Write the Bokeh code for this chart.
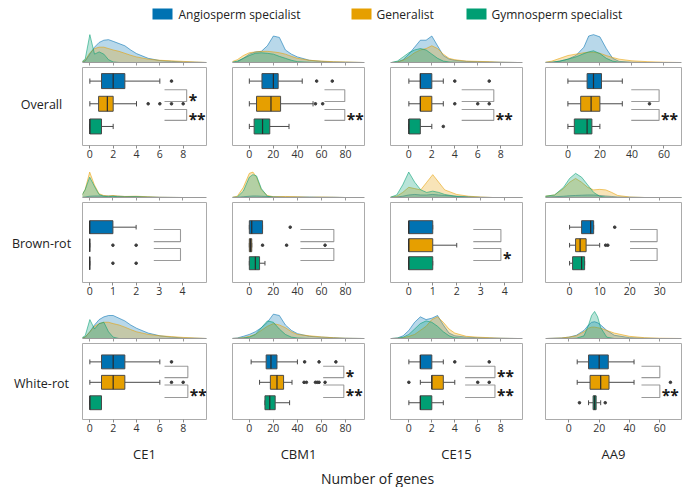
from bokeh.plotting import figure
from bokeh.layouts import column, row
from bokeh.models import ColumnDataSource, Range1d, FixedTicker, Label
from bokeh.embed import file_html
from bokeh.resources import INLINE
from bokeh.core.properties import value

FONT = "Open Sans"
GROUPS = ["Angiosperm specialist", "Generalist", "Gymnosperm specialist"]
COLORS = ["#0072B2", "#E69F00", "#009E73"]
ROW_NAMES = ["Overall", "Brown-rot", "White-rot"]
COL_NAMES = ["CE1", "CBM1", "CE15", "AA9"]

# ---- box statistics: [low whisker, Q1, median, Q3, high whisker] for Angio, Generalist, Gymno
BOX_OVERALL_CE1 = [[0, 1, 2, 3, 6], [0, 0.75, 1.5, 2, 4], [0, 0, 0, 1, 2]]
OUT_OVERALL_CE1 = [[7], [5, 6, 7, 8], []]
BOX_OVERALL_CBM1 = [[0, 10.5, 20, 24, 44], [0, 6, 18, 26, 53], [0, 4, 11, 17, 33]]
OUT_OVERALL_CBM1 = [[56, 69], [55, 61], []]
BOX_OVERALL_CE15 = [[0, 1, 1, 2, 3], [0, 1, 1, 2, 3], [0, 0, 0, 1, 2]]
OUT_OVERALL_CE15 = [[4, 7], [4, 6, 7], [3]]
BOX_OVERALL_AA9 = [[0, 12, 16, 21, 34], [0, 8, 14.5, 20, 34], [0, 4, 12, 15, 20]]
OUT_OVERALL_AA9 = [[], [51], []]

BOX_BROWN_CE1 = [[0, 0, 0, 1, 2], [0, 0, 0, 0, 0], [0, 0, 0, 0, 0]]
OUT_BROWN_CE1 = [[], [1, 2], [1, 2]]
BOX_BROWN_CBM1 = [[0, 0, 2, 11, 11], [0, 0, 1, 2, 2], [0, 0, 5, 8.5, 13]]
OUT_BROWN_CBM1 = [[34], [11, 31, 63], []]
BOX_BROWN_CE15 = [[0, 0, 0, 1, 1], [0, 0, 0, 1, 2], [0, 0, 0, 1, 1]]
OUT_BROWN_CE15 = [[], [], []]
BOX_BROWN_AA9 = [[0, 4, 7, 8, 8], [0, 2, 3.5, 5.5, 10], [0, 1, 4, 5, 5]]
OUT_BROWN_AA9 = [[15], [12, 12.7], []]

BOX_WHITE_CE1 = [[0, 1, 2, 3, 6], [0, 1, 2, 3, 6], [0, 0, 0, 1, 1]]
OUT_WHITE_CE1 = [[7], [7, 8], []]
BOX_WHITE_CBM1 = [[1.5, 14, 18, 23, 40], [8.5, 17.5, 23, 28.5, 35.5], [13, 13, 17, 21.5, 33.5]]
OUT_WHITE_CBM1 = [[46, 58, 72], [45.5, 47.5, 55, 56.5, 58, 63], []]
BOX_WHITE_CE15 = [[0, 1, 1, 2, 3], [1, 2, 2, 3, 4], [0, 1, 1, 2, 3]]
OUT_WHITE_CE15 = [[4, 7], [0, 6, 7], []]
BOX_WHITE_AA9 = [[5.5, 13, 20, 26, 43], [5.5, 14, 21, 26.5, 43], [13, 16, 17, 18, 21]]
OUT_WHITE_AA9 = [[], [67], [7, 24]]

# ---- significance labels (upper bracket: Angio vs Generalist, lower: Generalist vs Gymno)
SIG_OVERALL = [["*", "**"], ["", "**"], ["", "**"], ["", "**"]]
SIG_BROWN = [["", ""], ["", ""], ["", "*"], ["", ""]]
SIG_WHITE = [["", "**"], ["*", "**"], ["**", "**"], ["", "**"]]

# ---- tick labels
TICKS_OVERALL = [[0, 2, 4, 6, 8], [0, 20, 40, 60, 80], [0, 2, 4, 6, 8], [0, 20, 40, 60]]
TICKS_BROWN = [[0, 1, 2, 3, 4], [0, 20, 40, 60, 80], [0, 1, 2, 3, 4], [0, 10, 20, 30]]
TICKS_WHITE = [[0, 2, 4, 6, 8], [0, 20, 40, 60, 80], [0, 2, 4, 6, 8], [0, 20, 40, 60]]

# ---- density curves: grid + heights for Angio, Generalist, Gymno
DX_OVERALL_CE1 = [-0.8, -0.4, 0, 0.4, 0.8, 1.2, 1.6, 2, 2.5, 3, 3.5, 4, 5, 6, 7, 8, 9, 10]
DY_OVERALL_CE1 = [
    [0, 0.05, 0.3, 0.55, 0.72, 0.8, 0.82, 0.76, 0.68, 0.6, 0.45, 0.32, 0.15, 0.07, 0.04, 0.02, 0.01, 0],
    [0, 0.08, 0.35, 0.5, 0.55, 0.55, 0.5, 0.45, 0.4, 0.33, 0.26, 0.2, 0.12, 0.08, 0.06, 0.04, 0.02, 0],
    [0, 0.12, 1.0, 0.3, 0.38, 0.3, 0.1, 0.02, 0, 0, 0, 0, 0, 0, 0, 0, 0, 0],
]
DX_OVERALL_CBM1 = [-15, -10, -5, 0, 5, 10, 15, 20, 25, 30, 35, 40, 50, 60, 70, 80, 95]
DY_OVERALL_CBM1 = [
    [0, 0.02, 0.15, 0.3, 0.38, 0.4, 0.6, 0.95, 0.9, 0.45, 0.3, 0.2, 0.08, 0.04, 0.02, 0.01, 0],
    [0.02, 0.1, 0.25, 0.35, 0.38, 0.4, 0.4, 0.38, 0.35, 0.3, 0.22, 0.15, 0.08, 0.05, 0.03, 0.02, 0],
    [0, 0.05, 0.15, 0.25, 0.33, 0.35, 0.33, 0.3, 0.22, 0.15, 0.08, 0.03, 0.01, 0, 0, 0, 0],
]
DX_OVERALL_CE15 = [-1.5, -1, -0.5, 0, 0.5, 1, 1.5, 2, 2.5, 3, 3.5, 4, 5, 6, 7, 8, 9.5]
DY_OVERALL_CE15 = [
    [0, 0.02, 0.1, 0.3, 0.55, 0.8, 0.8, 0.95, 0.6, 0.25, 0.12, 0.08, 0.04, 0.03, 0.02, 0.01, 0],
    [0, 0.02, 0.08, 0.2, 0.35, 0.45, 0.5, 0.6, 0.5, 0.3, 0.15, 0.1, 0.05, 0.04, 0.03, 0.01, 0],
    [0, 0.05, 0.2, 0.35, 0.45, 0.5, 0.45, 0.3, 0.15, 0.05, 0.02, 0.01, 0, 0, 0, 0, 0],
]
DX_OVERALL_AA9 = [-15, -10, -5, 0, 5, 10, 13, 16, 20, 24, 28, 32, 40, 50, 60, 70]
DY_OVERALL_AA9 = [
    [0, 0.01, 0.05, 0.12, 0.25, 0.55, 0.95, 1.0, 0.92, 0.5, 0.15, 0.04, 0.01, 0, 0, 0],
    [0, 0.05, 0.15, 0.25, 0.3, 0.35, 0.37, 0.37, 0.33, 0.25, 0.18, 0.12, 0.06, 0.03, 0.01, 0],
    [0, 0.01, 0.05, 0.12, 0.2, 0.32, 0.38, 0.42, 0.32, 0.15, 0.05, 0.01, 0, 0, 0, 0],
]
DX_BROWN_CE1 = [-0.4, -0.2, 0, 0.2, 0.4, 0.6, 0.8, 1, 1.2, 1.5, 2, 2.5, 3, 4, 5]
DY_BROWN_CE1 = [
    [0, 0.02, 0.05, 0.06, 0.06, 0.06, 0.06, 0.06, 0.05, 0.04, 0.03, 0.02, 0.01, 0, 0],
    [0, 0.3, 1.0, 0.5, 0.15, 0.08, 0.06, 0.08, 0.06, 0.04, 0.05, 0.03, 0.01, 0, 0],
    [0, 0.3, 0.8, 0.45, 0.12, 0.05, 0.03, 0.05, 0.03, 0.02, 0.03, 0.01, 0, 0, 0],
]
DX_BROWN_CBM1 = [-15, -10, -5, 0, 3, 6, 10, 15, 20, 30, 40, 50, 60, 70, 80, 95]
DY_BROWN_CBM1 = [
    [0, 0.01, 0.03, 0.05, 0.06, 0.06, 0.05, 0.04, 0.03, 0.02, 0.02, 0.02, 0.01, 0.01, 0, 0],
    [0, 0.05, 0.4, 0.95, 1.0, 0.8, 0.3, 0.08, 0.03, 0.04, 0.03, 0.01, 0.02, 0.01, 0, 0],
    [0, 0.02, 0.25, 0.8, 0.9, 0.85, 0.35, 0.05, 0.01, 0, 0, 0, 0, 0, 0, 0],
]
DX_BROWN_CE15 = [-0.8, -0.5, -0.25, 0, 0.25, 0.5, 0.75, 1, 1.25, 1.5, 2, 2.5, 3, 3.5, 4, 4.8]
DY_BROWN_CE15 = [
    [0, 0.02, 0.05, 0.1, 0.12, 0.1, 0.1, 0.12, 0.1, 0.08, 0.05, 0.03, 0.01, 0, 0, 0],
    [0, 0.05, 0.2, 0.4, 0.35, 0.3, 0.6, 0.9, 0.6, 0.3, 0.12, 0.05, 0.02, 0, 0, 0],
    [0, 0.1, 0.5, 1.0, 0.6, 0.3, 0.2, 0.25, 0.2, 0.12, 0.04, 0.01, 0, 0, 0, 0],
]
DX_BROWN_AA9 = [-15, -10, -5, -2, 0, 2, 4, 6, 8, 10, 12, 14, 16, 20, 25, 30, 38]
DY_BROWN_AA9 = [
    [0, 0.01, 0.03, 0.05, 0.07, 0.08, 0.09, 0.1, 0.1, 0.08, 0.06, 0.04, 0.02, 0.01, 0, 0, 0],
    [0, 0.02, 0.1, 0.35, 0.6, 0.75, 0.6, 0.4, 0.3, 0.32, 0.3, 0.2, 0.08, 0.02, 0, 0, 0],
    [0, 0.02, 0.1, 0.4, 0.75, 0.95, 0.8, 0.5, 0.2, 0.05, 0.01, 0, 0, 0, 0, 0, 0],
]
DX_WHITE_CE1 = [-0.8, -0.4, 0, 0.4, 0.8, 1.2, 1.6, 2, 2.5, 3, 3.5, 4, 5, 6, 7, 8, 9, 10]
DY_WHITE_CE1 = [
    [0, 0.05, 0.25, 0.5, 0.7, 0.8, 0.85, 0.85, 0.75, 0.65, 0.5, 0.38, 0.2, 0.1, 0.05, 0.02, 0.01, 0],
    [0, 0.05, 0.25, 0.45, 0.55, 0.6, 0.6, 0.55, 0.5, 0.42, 0.33, 0.25, 0.15, 0.1, 0.07, 0.04, 0.02, 0],
    [0, 0.1, 0.7, 0.35, 0.55, 0.6, 0.25, 0.05, 0, 0, 0, 0, 0, 0, 0, 0, 0, 0],
]
DX_WHITE_CBM1 = [-15, -10, -5, 0, 5, 10, 15, 20, 25, 30, 35, 40, 50, 60, 70, 80, 95]
DY_WHITE_CBM1 = [
    [0, 0.02, 0.08, 0.15, 0.25, 0.4, 0.6, 0.9, 0.85, 0.5, 0.3, 0.18, 0.08, 0.05, 0.03, 0.01, 0],
    [0, 0.01, 0.03, 0.08, 0.15, 0.3, 0.45, 0.55, 0.5, 0.4, 0.25, 0.15, 0.1, 0.06, 0.03, 0.01, 0],
    [0, 0, 0.02, 0.05, 0.15, 0.4, 0.65, 0.6, 0.35, 0.15, 0.05, 0.02, 0, 0, 0, 0, 0],
]
DX_WHITE_CE15 = [-1.5, -1, -0.5, 0, 0.5, 1, 1.5, 2, 2.5, 3, 3.5, 4, 5, 6, 7, 8, 9.5]
DY_WHITE_CE15 = [
    [0, 0.02, 0.1, 0.3, 0.6, 0.8, 0.7, 0.75, 0.85, 0.5, 0.2, 0.1, 0.05, 0.03, 0.02, 0.01, 0],
    [0, 0.01, 0.03, 0.08, 0.15, 0.3, 0.45, 0.7, 0.8, 0.6, 0.35, 0.2, 0.08, 0.05, 0.03, 0.01, 0],
    [0, 0.01, 0.05, 0.15, 0.35, 0.55, 0.65, 0.6, 0.45, 0.25, 0.1, 0.03, 0, 0, 0, 0, 0],
]
DX_WHITE_AA9 = [-15, -10, -5, 0, 5, 10, 13, 15, 17, 19, 21, 25, 30, 40, 50, 60, 74]
DY_WHITE_AA9 = [
    [0, 0.01, 0.02, 0.05, 0.12, 0.3, 0.5, 0.6, 0.62, 0.58, 0.5, 0.3, 0.12, 0.03, 0.01, 0, 0],
    [0, 0.01, 0.02, 0.05, 0.1, 0.25, 0.38, 0.42, 0.42, 0.4, 0.38, 0.3, 0.2, 0.08, 0.03, 0.01, 0],
    [0, 0, 0, 0, 0.01, 0.1, 0.5, 0.85, 1.0, 0.8, 0.4, 0.05, 0, 0, 0, 0, 0],
]

BOXES = [
    [BOX_OVERALL_CE1, BOX_OVERALL_CBM1, BOX_OVERALL_CE15, BOX_OVERALL_AA9],
    [BOX_BROWN_CE1, BOX_BROWN_CBM1, BOX_BROWN_CE15, BOX_BROWN_AA9],
    [BOX_WHITE_CE1, BOX_WHITE_CBM1, BOX_WHITE_CE15, BOX_WHITE_AA9],
]
OUTS = [
    [OUT_OVERALL_CE1, OUT_OVERALL_CBM1, OUT_OVERALL_CE15, OUT_OVERALL_AA9],
    [OUT_BROWN_CE1, OUT_BROWN_CBM1, OUT_BROWN_CE15, OUT_BROWN_AA9],
    [OUT_WHITE_CE1, OUT_WHITE_CBM1, OUT_WHITE_CE15, OUT_WHITE_AA9],
]
SIGS = [SIG_OVERALL, SIG_BROWN, SIG_WHITE]
TICKS = [TICKS_OVERALL, TICKS_BROWN, TICKS_WHITE]
DXS = [
    [DX_OVERALL_CE1, DX_OVERALL_CBM1, DX_OVERALL_CE15, DX_OVERALL_AA9],
    [DX_BROWN_CE1, DX_BROWN_CBM1, DX_BROWN_CE15, DX_BROWN_AA9],
    [DX_WHITE_CE1, DX_WHITE_CBM1, DX_WHITE_CE15, DX_WHITE_AA9],
]
DYS = [
    [DY_OVERALL_CE1, DY_OVERALL_CBM1, DY_OVERALL_CE15, DY_OVERALL_AA9],
    [DY_BROWN_CE1, DY_BROWN_CBM1, DY_BROWN_CE15, DY_BROWN_AA9],
    [DY_WHITE_CE1, DY_WHITE_CBM1, DY_WHITE_CE15, DY_WHITE_AA9],
]

# ---- layout (pixels / axis extents of the visible frames)
X_RANGES = [
    [(-0.63, 10.0), (-14, 95.8), (-1.6, 9.9), (-14, 71)],
    [(-0.31, 5.03), (-14, 95.8), (-0.76, 4.74), (-8, 37.2)],
    [(-0.63, 10.0), (-14, 95.8), (-1.6, 9.9), (-15.4, 74.3)],
]
BRACKET_X = [
    [(6.4, 8.3), (62.5, 79.4), (4.6, 7.4), (39.6, 57)],
    [(2.76, 3.91), (42.5, 70.3), (2.69, 3.84), (20.1, 29.1)],
    [(6.4, 8.4), (61.4, 78.6), (4.9, 7.5), (47.9, 60)],
]
BRACKET_Y = [
    [(2.62, 2.1), (1.75, 1.27)],
    [(2.87, 2.2), (1.82, 1.15)],
    [(2.79, 2.23), (1.87, 1.26)],
]
Y_RANGES = [(0.16, 3.6), (-0.07, 4.37), (0.18, 3.9)]
BOX_H = [0.66, 0.72, 0.68]
LABEL_W = 80
COL_W = [142, 156, 157, 150]
BORDER_L = [2, 10, 12, 10]
FRAME_W = [124, 132, 132, 136]
LEG_H = 28
DENS_H = [38, 35, 37]
BOXFIG_H = [100, 104, 123]
BOXFIG_BB = [21, 23, 45]
LABEL_Y = [75.5, 77, 78]
DENS_TOP = 1.22

FRAME = "#ababab"
EDGE = "#4a4a4a"
TXT = "#333333"


def base_fig(**kw):
    p = figure(output_backend="svg", toolbar_location=None, **kw)
    p.xgrid.visible = False
    p.ygrid.visible = False
    p.background_fill_color = "white"
    p.border_fill_color = "white"
    return p


def border_right(c):
    return COL_W[c] - BORDER_L[c] - FRAME_W[c]


def density_panel(r, c, xr):
    p = base_fig(width=COL_W[c], height=DENS_H[r], x_range=xr, y_range=Range1d(0, DENS_TOP),
                 y_axis_type=None, min_border_left=BORDER_L[c], min_border_right=border_right(c),
                 min_border_top=0, min_border_bottom=4)
    p.outline_line_color = None
    xs = DXS[r][c]
    for ys, col in zip(DYS[r][c], COLORS):
        p.varea(x=xs, y1=[0] * len(xs), y2=ys, fill_color=col, fill_alpha=0.28)
        p.line(x=xs, y=ys, line_color=col, line_width=0.8, line_alpha=0.7)
    ax = p.xaxis[0]
    ax.ticker = FixedTicker(ticks=TICKS[r][c])
    ax.major_label_text_font_size = "1px"
    ax.major_label_text_color = None
    ax.major_label_standoff = 0
    ax.major_tick_out = 3
    ax.major_tick_in = 0
    ax.minor_tick_line_color = None
    ax.axis_line_color = "#9a9a9a"
    ax.major_tick_line_color = "#9a9a9a"
    return p


def box_panel(r, c, xr):
    y0, y1 = Y_RANGES[r]
    p = base_fig(width=COL_W[c], height=BOXFIG_H[r], x_range=xr, y_range=Range1d(y0, y1),
                 y_axis_type=None, min_border_left=BORDER_L[c], min_border_right=border_right(c),
                 min_border_top=1, min_border_bottom=BOXFIG_BB[r])
    p.outline_line_color = FRAME
    p.outline_line_width = 1
    bh = BOX_H[r]
    cap = bh * 0.35
    ypos = [3, 2, 1]
    lo, q1, md, q3, hi = zip(*BOXES[r][c])
    src = ColumnDataSource(dict(
        y=ypos, lo=lo, q1=q1, md=md, q3=q3, hi=hi, color=COLORS,
        yt=[y + bh / 2 for y in ypos], yb=[y - bh / 2 for y in ypos],
        ct=[y + cap / 2 for y in ypos], cb=[y - cap / 2 for y in ypos],
    ))
    p.segment(x0="lo", y0="y", x1="q1", y1="y", source=src, line_color=EDGE, line_width=1)
    p.segment(x0="q3", y0="y", x1="hi", y1="y", source=src, line_color=EDGE, line_width=1)
    p.segment(x0="lo", y0="cb", x1="lo", y1="ct", source=src, line_color=EDGE, line_width=1)
    p.segment(x0="hi", y0="cb", x1="hi", y1="ct", source=src, line_color=EDGE, line_width=1)
    p.hbar(y="y", left="q1", right="q3", height=bh, source=src, fill_color="color",
           line_color=EDGE, line_width=1)
    p.segment(x0="md", y0="yb", x1="md", y1="yt", source=src, line_color="#2b2b2b", line_width=1.2)
    ox, oy = [], []
    for y, outs in zip(ypos, OUTS[r][c]):
        for v in outs:
            ox.append(v)
            oy.append(y)
    p.scatter(x=ox, y=oy, size=2.6, color="#3a3a3a", marker="circle")
    # significance brackets
    xl, xrr = BRACKET_X[r][c]
    for (ytop, ybot), sig in zip(BRACKET_Y[r], SIGS[r][c]):
        p.line(x=[xl, xrr, xrr, xl], y=[ytop, ytop, ybot, ybot], line_color="#9a9a9a", line_width=1.1)
        if sig:
            p.add_layout(Label(x=xrr, y=(ytop + ybot) / 2, text=sig, x_offset=2, y_offset=-4,
                               text_font=FONT, text_font_size="15.5px", text_font_style="bold",
                               text_color="#1a1a1a", text_baseline="middle", text_align="left"))
    ax = p.xaxis[0]
    ax.ticker = FixedTicker(ticks=TICKS[r][c])
    ax.axis_line_color = None
    ax.major_tick_line_color = "#8a8a8a"
    ax.major_tick_out = 3
    ax.major_tick_in = 0
    ax.minor_tick_line_color = None
    ax.major_label_standoff = 1
    ax.major_label_text_font = FONT
    ax.major_label_text_font_size = "10.5px"
    ax.major_label_text_color = TXT
    if r == 2:
        ax.axis_label = COL_NAMES[c]
        ax.axis_label_text_font = FONT
        ax.axis_label_text_font_style = "normal"
        ax.axis_label_text_font_size = "13px"
        ax.axis_label_text_color = "#222222"
        ax.axis_label_standoff = 10
    return p


TOTAL_W = LABEL_W + sum(COL_W)

# legend strip
leg = base_fig(width=TOTAL_W, height=LEG_H, x_range=Range1d(0, TOTAL_W), y_range=Range1d(LEG_H, 0),
               x_axis_type=None, y_axis_type=None, min_border=0)
leg.outline_line_color = None
LEG_SW_X = [162, 361, 476]
LEG_TX_X = [178, 376, 491]
leg.rect(x=LEG_SW_X, y=[13.5] * 3, width=20, height=11, fill_color=COLORS, line_color=None)
leg.text(x=LEG_TX_X, y=[13.5] * 3, text=GROUPS, text_font=value(FONT), text_font_size="12px",
         text_color="#222222", text_baseline="middle", text_align="left")

rows = [leg]
for r in range(3):
    h = DENS_H[r] + BOXFIG_H[r]
    lab = base_fig(width=LABEL_W, height=h, x_range=Range1d(0, LABEL_W), y_range=Range1d(h, 0),
                   x_axis_type=None, y_axis_type=None, min_border=0)
    lab.outline_line_color = None
    lab.text(x=[41], y=[LABEL_Y[r]], text=[ROW_NAMES[r]], text_font=value(FONT),
             text_font_size="12.5px", text_color="#222222", text_align="center", text_baseline="middle")
    cells = [lab]
    for c in range(4):
        xr = Range1d(*X_RANGES[r][c])
        cells.append(column(density_panel(r, c, xr), box_panel(r, c, xr), spacing=0))
    rows.append(row(*cells, spacing=0))

xl = base_fig(width=TOTAL_W, height=22, x_range=Range1d(0, TOTAL_W), y_range=Range1d(22, 0),
              x_axis_type=None, y_axis_type=None, min_border=0)
xl.outline_line_color = None
xl.text(x=[377], y=[13], text=["Number of genes"], text_font=value(FONT), text_font_size="14px",
        text_color="#222222", text_align="center", text_baseline="middle")
rows.append(xl)

layout = column(*rows, spacing=0)
open("out.html", "w").write(file_html(layout, INLINE))
